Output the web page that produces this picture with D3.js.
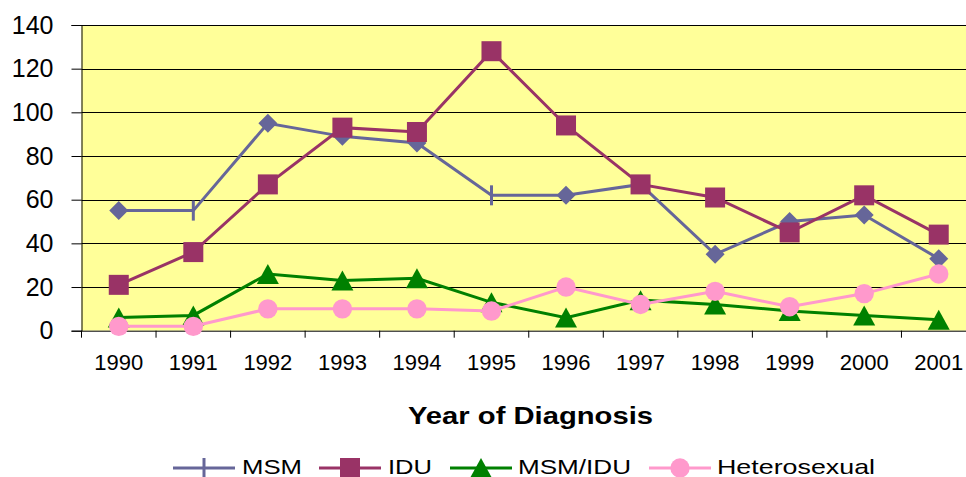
<!DOCTYPE html>
<html><head><meta charset="utf-8">
<script src="https://cdn.jsdelivr.net/npm/d3@7"></script>
<style>body{margin:0;background:#fff;overflow:hidden}svg{display:block}</style>
</head><body>
<svg id="chart" width="966" height="477"></svg>
<script>
const years = ["1990","1991","1992","1993","1994","1995","1996","1997","1998","1999","2000","2001"];
const seriesNames = ["MSM","IDU","MSM/IDU","Heterosexual"];
const msm = [55,55,95,89,86,62,62,67,35,50,53,33];
const idu = [21,36,67,93,91,128,94,67,61,45,62,44];
const msmIdu = [6,7,26,23,24,13,6,14,12,9,7,5];
const hetero = [2,2,10,10,10,9,20,12,18,11,17,26];
const yTicks = [0,20,40,60,80,100,120,140];

(function(){
const FONT = "Liberation Sans, Arial, sans-serif";
const svg = d3.select("#chart");
const pLeft = 81.5, pRight = 976, pTop = 25, pBottom = 330.7;
const x = d3.scaleBand().domain(years).range([pLeft, pRight]);
const y = d3.scaleLinear().domain([0,140]).range([pBottom, pTop]);

svg.append("rect").attr("x", pLeft).attr("y", pTop).attr("width", pRight-pLeft).attr("height", pBottom-pTop).attr("fill", "#FFFF99");

// gridlines
svg.append("g").selectAll("line").data(yTicks.filter(d=>d>0)).join("line")
  .attr("x1", pLeft).attr("x2", pRight).attr("y1", d=>Math.round(y(d))+0.5).attr("y2", d=>Math.round(y(d))+0.5)
  .attr("stroke", "#000").attr("stroke-width", 1);

// y axis
const yAxis = svg.append("g").attr("transform", `translate(${pLeft},0)`)
  .call(d3.axisLeft(y).tickValues(yTicks).tickSize(10).tickPadding(18));
yAxis.select(".domain").attr("stroke", "#000");
yAxis.selectAll("line").attr("stroke", "#000");
yAxis.selectAll("text").attr("font-family", FONT).attr("font-size", 25).attr("fill", "#000");

// x axis
const xAxis = svg.append("g").attr("transform", `translate(0,${pBottom})`)
  .call(d3.axisBottom(x).tickSize(0).tickPadding(24));
xAxis.select(".domain").attr("stroke", "#000");
xAxis.selectAll("text").attr("font-family", FONT).attr("font-size", 22).attr("fill", "#000");
svg.append("g").selectAll("line").data(years).join("line")
  .attr("x1", d=>x(d)).attr("x2", d=>x(d)).attr("y1", pBottom).attr("y2", pBottom+7)
  .attr("stroke", "#000");

svg.append("text").attr("x", 408).attr("y", 424)
  .attr("font-family", FONT).attr("font-size", 24.5).attr("font-weight", "bold")
  .attr("textLength", 245).attr("lengthAdjust", "spacingAndGlyphs")
  .text("Year of Diagnosis");

const cx = d => x(d) + x.bandwidth()/2;
const colors = ["#666699","#993366","#008000","#FF99CC"];
const data = [msm, idu, msmIdu, hetero];
const line = d3.line().x((d,i)=>cx(years[i])).y(d=>y(d));

function marker(g, k, px, py, special) {
  if (k === 0) {
    if (special) {
      g.append("line").attr("x1", px).attr("x2", px).attr("y1", py-10).attr("y2", py+10)
        .attr("stroke", colors[0]).attr("stroke-width", 3);
    } else {
      g.append("path").attr("d", `M${px},${py-9.5}L${px+9.5},${py}L${px},${py+9.5}L${px-9.5},${py}Z`).attr("fill", colors[0]);
    }
  } else if (k === 1) {
    g.append("rect").attr("x", px-10).attr("y", py-10).attr("width", 20).attr("height", 20).attr("fill", colors[1]);
  } else if (k === 2) {
    g.append("path").attr("d", `M${px},${py-10}L${px+11},${py+10}L${px-11},${py+10}Z`).attr("fill", colors[2]);
  } else {
    g.append("circle").attr("cx", px).attr("cy", py).attr("r", 9.7).attr("fill", colors[3]);
  }
}

const plot = svg.append("g");
data.forEach((vals, k) => {
  const g = plot.append("g");
  g.append("path").datum(vals).attr("d", line).attr("fill", "none").attr("stroke", colors[k]).attr("stroke-width", 3);
  vals.forEach((v, i) => marker(g, k, cx(years[i]), y(v), k===0 && (i===1 || i===5)));
});

// legend
const legendItems = [
  {lx: 173, tx: 242, tw: 60},
  {lx: 319, tx: 388, tw: 44},
  {lx: 450, tx: 518, tw: 113},
  {lx: 649, tx: 717, tw: 158}
];
const lg = svg.append("g");
seriesNames.forEach((name, k) => {
  const it = legendItems[k];
  const ly = 468;
  lg.append("line").attr("x1", it.lx).attr("x2", it.lx+62).attr("y1", ly).attr("y2", ly).attr("stroke", colors[k]).attr("stroke-width", 3);
  marker(lg, k, it.lx+31, ly, k===0);
  lg.append("text").attr("x", it.tx).attr("y", 473.5).attr("font-family", FONT).attr("font-size", 21)
    .attr("textLength", it.tw).attr("lengthAdjust", "spacingAndGlyphs").text(name);
});
})();
</script>
</body></html>
